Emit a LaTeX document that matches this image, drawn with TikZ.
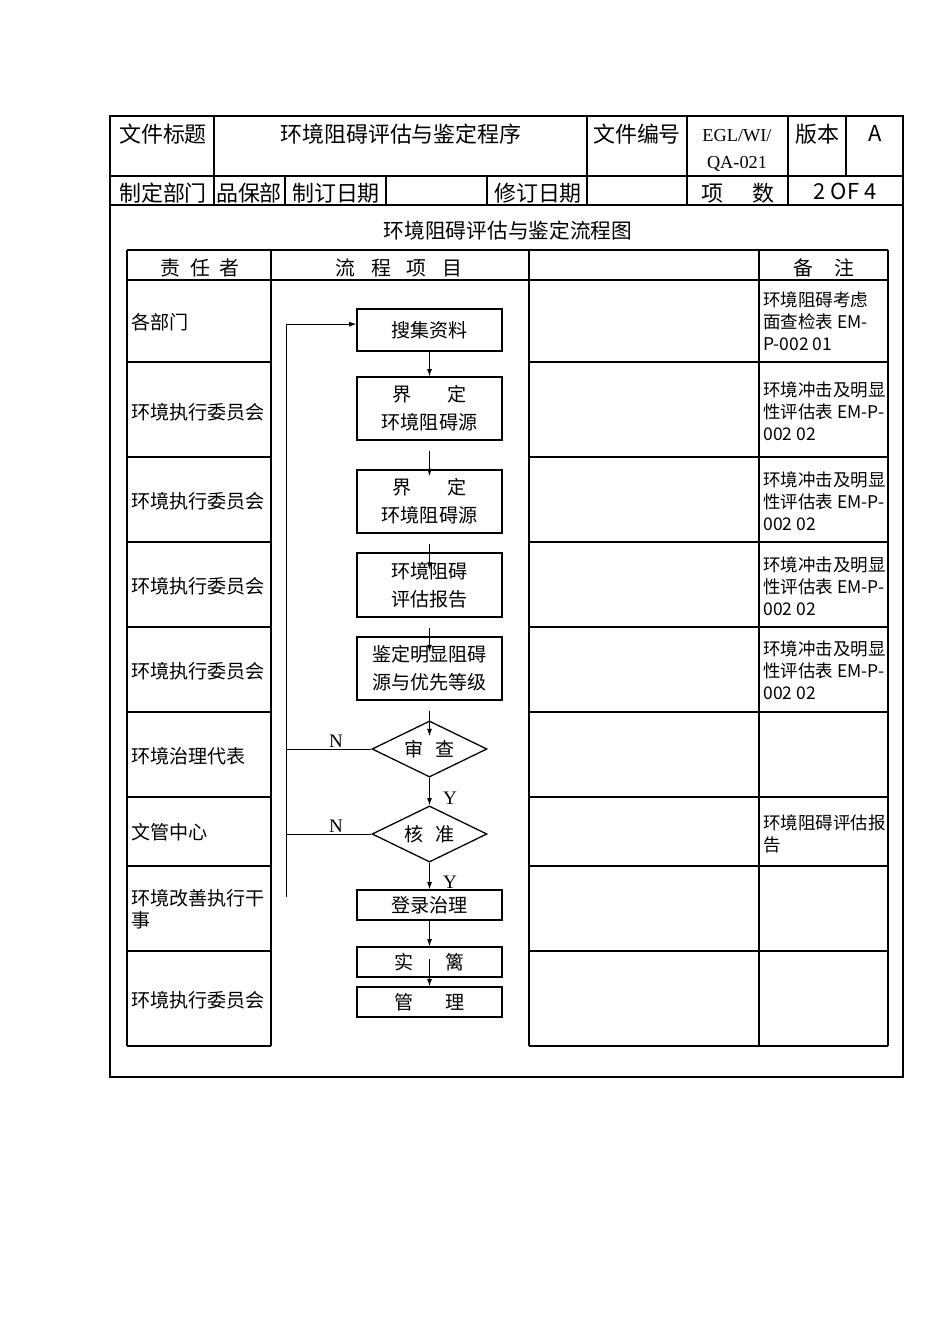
\documentclass[tikz,border=0pt]{standalone}
\usepackage{fontspec}
\setmainfont{Noto Sans CJK SC}
\newfontfamily\tms{Liberation Serif}
\usepackage{tikz}
\usetikzlibrary{positioning, arrows.meta, shapes.geometric}

\begin{document}
\begin{tikzpicture}[
    x=0.221mm, y=-0.221mm,
    frame/.style={line width=1.4pt},
    grid/.style={line width=0.7pt},
    cell/.style={inner sep=0pt, font=\fontsize{13.8}{16}\selectfont},
    head/.style={inner sep=0pt, font=\fontsize{12.5}{15}\selectfont},
    who/.style={anchor=west, inner sep=0pt, font=\fontsize{12}{13.8}\selectfont, align=left},
    note/.style={anchor=west, inner sep=0pt, font=\fontsize{11}{13.8}\selectfont, align=left},
    box/.style={rectangle, draw, line width=0.9pt, minimum width=32mm, inner sep=0pt, font=\fontsize{12}{17.5}\selectfont, align=center},
    check/.style={diamond, draw, aspect=2, line width=0.8pt, minimum width=25.4mm, minimum height=12.4mm, inner sep=0pt, font=\fontsize{12}{15}\selectfont},
    arr/.style={-{Latex[length=1.6mm, width=1.1mm]}, line width=0.6pt},
    yn/.style={inner sep=0pt, font=\tms\fontsize{12}{14}\selectfont},
]
    \useasboundingbox (0,0) rectangle (950,1344);

    \draw[frame] (110,116) rectangle (903,1077);
    \draw[grid] (110,176) -- (903,176);
    \draw[grid] (110,205) -- (903,205);
    \draw[grid] (214,116) -- (214,205);
    \draw[grid] (587,116) -- (587,205);
    \draw[grid] (687,116) -- (687,205);
    \draw[grid] (788,116) -- (788,205);
    \draw[grid] (846,116) -- (846,176);
    \draw[grid] (285,176) -- (285,205);
    \draw[grid] (386,176) -- (386,205);
    \draw[grid] (487,176) -- (487,205);

    \node[cell] (t1) at (163,134) {文件标题};
    \node[cell] (t2) at (401,134) {环境阻碍评估与鉴定程序};
    \node[cell] (t3) at (637,134) {文件编号};
    \node[cell, font=\tms\fontsize{11.5}{14}\selectfont] (t4) at (737,136) {EGL/WI/};
    \node[cell, font=\tms\fontsize{11.5}{14}\selectfont] (t5) at (737,164) {QA-021};
    \node[cell] (t6) at (817,134) {版本};
    \node[cell] (t7) at (875,133) {A};
    \node[cell] (u1) at (163,193) {制定部门};
    \node[cell] (u2) at (249,193) {品保部};
    \node[cell] (u3) at (336,193) {制订日期};
    \node[cell] (u4) at (538,193) {修订日期};
    \node[cell] (u5) at (738,193) {项\hspace{1.3em}数};
    \node[cell] (u6) at (845,191) {2 OF 4};

    \node[cell, font=\fontsize{13}{15}\selectfont] (chart) at (508,231) {环境阻碍评估与鉴定流程图};

    \draw[grid] (127,250) -- (888,250);
    \draw[grid] (127,280) -- (888,280);
    \draw[grid] (127,250) -- (127,1046);
    \draw[grid] (271,250) -- (271,1046);
    \draw[grid] (529,250) -- (529,1046);
    \draw[grid] (759,250) -- (759,1046);
    \draw[grid] (888,250) -- (888,1046);
    \draw[grid] (127,362) -- (271,362) (529,362) -- (888,362);
    \draw[grid] (127,457) -- (271,457) (529,457) -- (888,457);
    \draw[grid] (127,542) -- (271,542) (529,542) -- (888,542);
    \draw[grid] (127,627) -- (271,627) (529,627) -- (888,627);
    \draw[grid] (127,712) -- (271,712) (529,712) -- (888,712);
    \draw[grid] (127,797) -- (271,797) (529,797) -- (888,797);
    \draw[grid] (127,866) -- (271,866) (529,866) -- (888,866);
    \draw[grid] (127,951) -- (271,951) (529,951) -- (888,951);
    \draw[grid] (127,1046) -- (271,1046) (529,1046) -- (888,1046);

    \node[head] (h1) at (200,268) {责\hspace{0.5em}任\hspace{0.5em}者};
    \node[head] (h2) at (399,268) {流\hspace{0.8em}程\hspace{0.8em}项\hspace{0.8em}目};
    \node[head] (h3) at (824,268) {备\hspace{1.05em}注};

    \node[who] (r1) at (131,322) {各部门};
    \node[who] (r2) at (131,412) {环境执行委员会};
    \node[who] (r3) at (131,501) {环境执行委员会};
    \node[who] (r4) at (131,586) {环境执行委员会};
    \node[who] (r5) at (131,671) {环境执行委员会};
    \node[who] (r6) at (131,756) {环境治理代表};
    \node[who] (r7) at (131,832) {文管中心};
    \node[who] (r8) at (131,909) {环境改善执行干\\事};
    \node[who] (r9) at (131,1000) {环境执行委员会};

    \node[note] (m1) at (763,321) {环境阻碍考虑\\面查检表 EM-\\P-002 01};
    \node[note] (m2) at (763,411) {环境冲击及明显\\性评估表 EM-P-\\002 02};
    \node[note] (m3) at (763,501) {环境冲击及明显\\性评估表 EM-P-\\002 02};
    \node[note] (m4) at (763,586) {环境冲击及明显\\性评估表 EM-P-\\002 02};
    \node[note] (m5) at (763,670) {环境冲击及明显\\性评估表 EM-P-\\002 02};
    \node[note] (m7) at (763,834) {环境阻碍评估报\\告};

    \node[box, minimum height=9.3mm] (s1) at (429.5,330) {搜集资料};
    \node[box, minimum height=13.9mm] (s2) at (429.5,408.5) {界\hspace{1.9em}定\\环境阻碍源};
    \node[box, minimum height=13.9mm] (s3) at (429.5,501.5) {界\hspace{1.9em}定\\环境阻碍源};
    \node[box, minimum height=14.1mm] (s4) at (429.5,585) {环境阻碍\\评估报告};
    \node[box, minimum height=13.9mm] (s5) at (429.5,668.5) {鉴定明显阻碍\\源与优先等级};
    \node[check] (d1) at (429.5,749) {审\hspace{0.6em}查};
    \node[check] (d2) at (429.5,834) {核\hspace{0.6em}准};
    \node[box, minimum height=6.6mm] (s6) at (429.5,905) {登录治理};
    \node[box, minimum height=6.6mm] (s7) at (429.5,962) {实\hspace{1.7em}篱};
    \node[box, minimum height=6.6mm] (s8) at (429.5,1002) {管\hspace{1.7em}理};

    \node[yn] (n1) at (336,741) {N};
    \node[yn] (n2) at (336,826) {N};
    \node[yn] (y1) at (450,798) {Y};
    \node[yn] (y2) at (450,882) {Y};
    \coordinate (fb) at (286,897);

    \draw[arr] (s1.south) -- (s2.north);
    \draw[arr] ([yshift=-2.2mm]s2.south) -- ([yshift=-1.5mm]s3.north);
    \draw[arr] ([yshift=-2.2mm]s3.south) -- ([yshift=-3.8mm]s4.north);
    \draw[arr] ([yshift=-2.2mm]s4.south) -- ([yshift=-3.5mm]s5.north);
    \draw[arr] ([yshift=-2.2mm]s5.south) -- ([yshift=-3.5mm]d1.north);
    \draw[arr] (d1.south) -- (d2.north);
    \draw[arr] (d2.south) -- (s6.north);
    \draw[arr] (s6.south) -- (s7.north);
    \draw[arr] ([yshift=-2.9mm]s7.north) -- (s8.north);
    \draw[arr] (fb) |- ([yshift=1.3mm]s1.west);
    \draw[line width=0.6pt] (d1.west) -- (d1.west -| fb);
    \draw[line width=0.6pt] (d2.west) -- (d2.west -| fb);
\end{tikzpicture}
\end{document}
